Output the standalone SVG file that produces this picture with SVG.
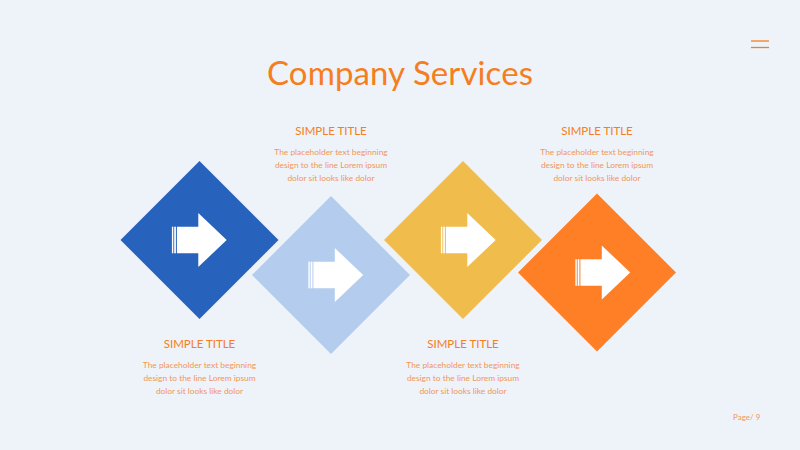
<svg xmlns="http://www.w3.org/2000/svg" xmlns:xlink="http://www.w3.org/1999/xlink" width="800" height="450" viewBox="0 0 800 450">
  <style>
    .title { font-family: Lato, "Open Sans", "Liberation Sans", sans-serif; font-size: 33px; font-weight: 400; fill: #F57E20; text-anchor: middle; }
    .sub { font-family: Lato, "Open Sans", "Liberation Sans", sans-serif; font-size: 11.5px; fill: #F57E20; text-anchor: middle; }
    .body { font-family: Lato, "Open Sans", "Liberation Sans", sans-serif; font-size: 8.4px; fill: #F2965A; text-anchor: middle; }
    .page { font-family: Lato, "Open Sans", "Liberation Sans", sans-serif; font-size: 8px; fill: #F2965A; }
    .arrow { fill: #FFFFFF; }
  </style>
  <defs>
    <polygon id="dia" points="0,-79 79,0 0,79 -79,0"/>
    <g id="arr" class="arrow">
      <rect x="-27.6" y="-13.3" width="1.4" height="26.6"/>
      <rect x="-25.3" y="-13.3" width="1.7" height="26.6"/>
      <path d="M-22.6,-13.3 H-1.2 V-27 L27.2,0 L-1.2,27 V13.3 H-22.6 Z"/>
    </g>
  </defs>
  <rect width="800" height="450" fill="#EDF3F9"/>
  <g id="menu" stroke="#F57E20" stroke-width="1.3">
    <line x1="751" y1="41" x2="769" y2="41"/>
    <line x1="751" y1="47.5" x2="769" y2="47.5"/>
  </g>
  <text class="title" x="400" y="85" textLength="266" lengthAdjust="spacing">Company Services</text>

  <g id="node1">
    <use xlink:href="#dia" transform="translate(199.5,240)" fill="#2763BD"/>
    <use xlink:href="#arr" transform="translate(199.5,240)"/>
  </g>
  <g id="node2">
    <use xlink:href="#dia" transform="translate(331,275)" fill="#B4CDEE"/>
    <use xlink:href="#arr" transform="translate(336,275)"/>
  </g>
  <g id="node3">
    <use xlink:href="#dia" transform="translate(463,240)" fill="#F0BC4C"/>
    <use xlink:href="#arr" transform="translate(468.5,240)"/>
  </g>
  <g id="node4">
    <use xlink:href="#dia" transform="translate(597,272.5)" fill="#FF7F27"/>
    <use xlink:href="#arr" transform="translate(603,272.5)"/>
  </g>

  <g id="label1">
    <text class="sub" x="199.5" y="348">SIMPLE TITLE</text>
    <text class="body" x="199.5" y="368">The placeholder text beginning</text>
    <text class="body" x="199.5" y="381">design to the line Lorem ipsum</text>
    <text class="body" x="199.5" y="394">dolor sit looks like dolor</text>
  </g>
  <g id="label2">
    <text class="sub" x="331" y="135">SIMPLE TITLE</text>
    <text class="body" x="331" y="155">The placeholder text beginning</text>
    <text class="body" x="331" y="168">design to the line Lorem ipsum</text>
    <text class="body" x="331" y="181">dolor sit looks like dolor</text>
  </g>
  <g id="label3">
    <text class="sub" x="463" y="348">SIMPLE TITLE</text>
    <text class="body" x="463" y="368">The placeholder text beginning</text>
    <text class="body" x="463" y="381">design to the line Lorem ipsum</text>
    <text class="body" x="463" y="394">dolor sit looks like dolor</text>
  </g>
  <g id="label4">
    <text class="sub" x="597" y="135">SIMPLE TITLE</text>
    <text class="body" x="597" y="155">The placeholder text beginning</text>
    <text class="body" x="597" y="168">design to the line Lorem ipsum</text>
    <text class="body" x="597" y="181">dolor sit looks like dolor</text>
  </g>
  <text class="page" x="733" y="420">Page/ 9</text>
</svg>
